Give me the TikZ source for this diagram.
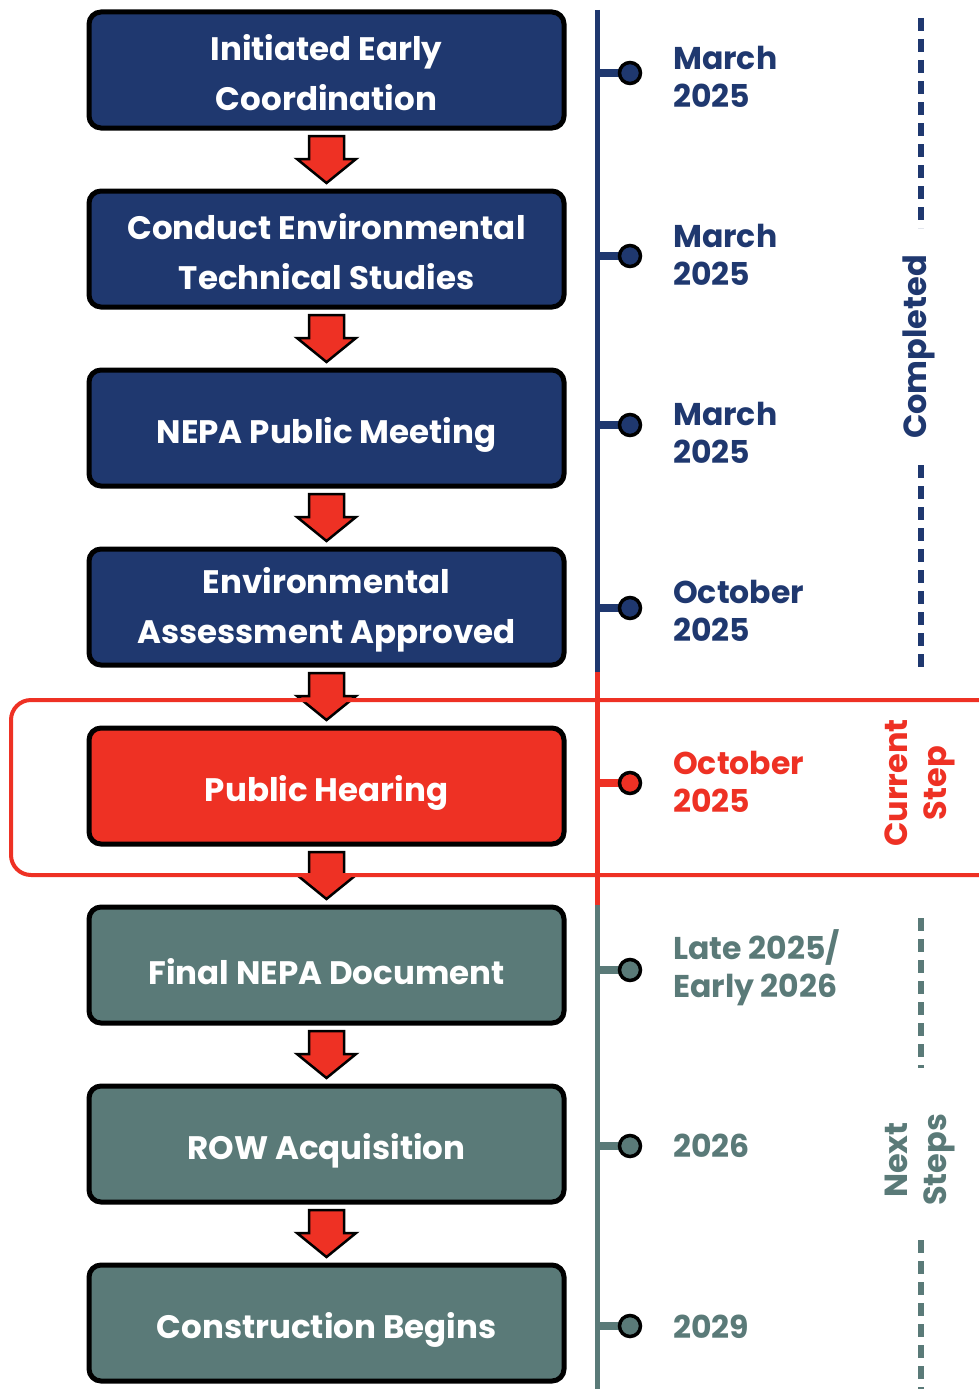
\documentclass[tikz,border=0pt]{standalone}
\usepackage{fontspec}
\setmainfont{Poppins}
\usetikzlibrary{calc}
\definecolor{navy}{HTML}{1F386F}
\definecolor{hred}{HTML}{EE3124}
\definecolor{teal}{HTML}{5A7A78}
\tikzset{
  stepbox/.style={draw=black, line width=5pt, rounded corners=12pt, minimum width=475pt, minimum height=116pt, inner sep=0pt},
  boxtext/.style={text=white, align=center, font=\fontsize{32.5}{50}\selectfont\bfseries, inner sep=0pt},
  dot/.style={circle, draw=black, line width=3.5pt, minimum size=21pt, inner sep=0pt},
  tick/.style={line width=8pt},
  datelbl/.style={anchor=west, align=left, font=\fontsize{31.5}{38}\selectfont\bfseries, inner sep=0pt},
  flowarrow/.style={draw=black, line width=2.5pt, fill=hred, line join=miter},
  phase/.style={rotate=90, align=center, font=\fontsize{32}{39}\selectfont\bfseries, inner sep=0pt},
  dashline/.style={line width=6.5pt, dash pattern=on 13pt off 8pt},
}
\begin{document}
\begin{tikzpicture}[x=1pt,y=-1pt]
\useasboundingbox (0,0) rectangle (979,1389);
% boxes
\node[stepbox, fill=navy] (b1) at (326.5,70) {};
\node[stepbox, fill=navy] (b2) at (326.5,249) {};
\node[stepbox, fill=navy] (b3) at (326.5,428) {};
\node[stepbox, fill=navy] (b4) at (326.5,607) {};
\node[stepbox, fill=hred] (b5) at (326.5,786) {};
\node[stepbox, fill=teal] (b6) at (326.5,965) {};
\node[stepbox, fill=teal] (b7) at (326.5,1144) {};
\node[stepbox, fill=teal] (b8) at (326.5,1323) {};
\node[boxtext] (x1) at ($(b1.center)+(0,3)$) {Initiated Early\\Coordination};
\node[boxtext] (x2) at ($(b2.center)+(0,3)$) {Conduct Environmental\\Technical Studies};
\node[boxtext] (x3) at ($(b3.center)+(0,7)$) {NEPA Public Meeting};
\node[boxtext] (x4) at ($(b4.center)+(0,3)$) {Environmental\\Assessment Approved};
\node[boxtext] (x5) at ($(b5.center)+(0,7)$) {Public Hearing};
\node[boxtext] (x6) at ($(b6.center)+(0,7)$) {Final NEPA Document};
\node[boxtext] (x7) at ($(b7.center)+(0,7)$) {ROW Acquisition};
\node[boxtext] (x8) at ($(b8.center)+(0,7)$) {Construction Begins};
% arrows
\foreach \b in {b1,b2,b3,b4,b5,b6,b7}{
  \draw[flowarrow] ($(\b.center)+(-17.5,66)$) -- ($(\b.center)+(17.5,66)$) -- ($(\b.center)+(17.5,89)$) -- ($(\b.center)+(29.5,89)$) -- ($(\b.center)+(0,113)$) -- ($(\b.center)+(-29.5,89)$) -- ($(\b.center)+(-17.5,89)$) -- cycle;
}
% current step frame
\draw[hred, line width=4pt, rounded corners=20pt] (11,700) rectangle (1000,875);
% timeline
\coordinate (t0) at (597,10);
\coordinate (t1) at (597,672);
\coordinate (t2) at (597,905);
\coordinate (t3) at (597,1389);
\draw[navy, line width=5pt] (t0) -- (t1);
\draw[hred, line width=5pt] (t1) -- (t2);
\draw[teal, line width=5pt] (t2) -- (t3);
% dots and ticks
\foreach \n/\y/\c in {d1/73/navy, d2/256/navy, d3/425/navy, d4/608/navy, d5/783/hred, d6/970/teal, d7/1146/teal, d8/1326/teal}{
  \coordinate (\n s) at (597,\y);
  \draw[tick, \c] (\n s) -- (630,\y);
  \node[dot, fill=\c] (\n) at (630,\y) {};
}
% dates
\node[datelbl, text=navy] (l1) at (673,77) {March\\2025};
\node[datelbl, text=navy] (l2) at (673,255) {March\\2025};
\node[datelbl, text=navy] (l3) at (673,433) {March\\2025};
\node[datelbl, text=navy] (l4) at (673,611) {October\\2025};
\node[datelbl, text=hred] (l5) at (673,782) {October\\2025};
\node[datelbl, text=teal] (l6) at (673,968) {Late 2025/\\Early 2026};
\node[datelbl, text=teal] (l7) at (673,1146) {2026};
\node[datelbl, text=teal] (l8) at (673,1327) {2029};
% phase labels
\node[phase, text=navy] (p1) at (919,347) {Completed};
\node[phase, text=hred] (p2) at (920,783) {Current\\Step};
\node[phase, text=teal] (p3) at (920,1160) {Next\\Steps};
\draw[dashline, navy] (921,18) -- (921,228);
\draw[dashline, navy] (921,465) -- (921,672);
\draw[dashline, teal] (921,918) -- (921,1068);
\draw[dashline, teal] (921,1240) -- (921,1389);
\end{tikzpicture}
\end{document}
